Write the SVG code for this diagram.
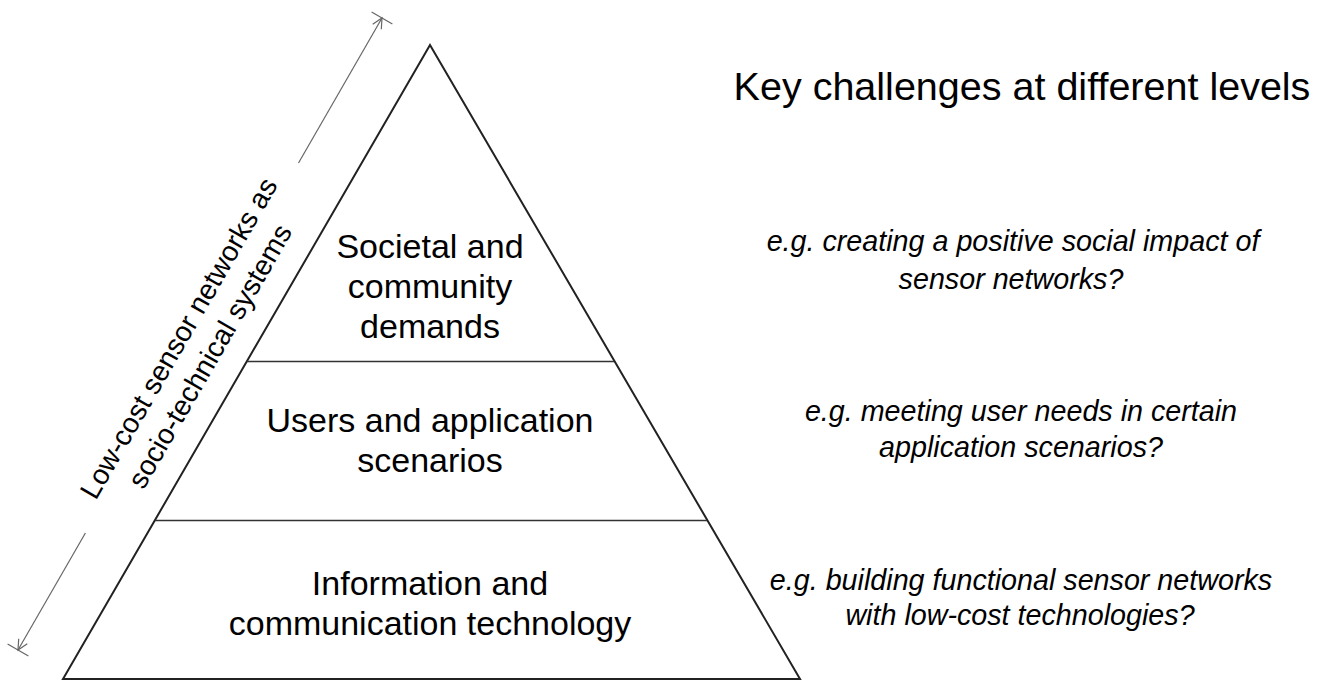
<svg xmlns="http://www.w3.org/2000/svg" width="1325" height="681" viewBox="0 0 1325 681">
  <style>
    .lvl { font-family: "Liberation Sans", Arial, sans-serif; font-size: 34px; fill: #000; text-anchor: middle; }
    .ex { font-family: "Liberation Sans", Arial, sans-serif; font-size: 28.7px; font-style: italic; fill: #000; text-anchor: middle; }
    .title { font-family: "Liberation Sans", Arial, sans-serif; font-size: 39.5px; fill: #000; text-anchor: middle; }
    .side { font-family: "Liberation Sans", Arial, sans-serif; font-size: 28.3px; fill: #000; text-anchor: middle; }
    .outline { fill: #fff; stroke: #222; stroke-width: 2; stroke-linejoin: miter; }
    .divider { stroke: #333; stroke-width: 1.6; fill: none; }
    .dim { stroke: #666; stroke-width: 1.2; fill: none; }
  </style>
  <rect width="1325" height="681" fill="#fff"/>

  <!-- pyramid outline -->
  <g id="pyramid">
    <polygon class="outline" points="430,45 800,679 63,679"/>
  </g>

  <!-- level dividers -->
  <g id="connectors">
    <line class="divider" x1="247" y1="361.5" x2="614" y2="361.5"/>
    <line class="divider" x1="155" y1="520.5" x2="707" y2="520.5"/>
  </g>

  <!-- levels -->
  <g id="level-societal">
    <text class="lvl" x="430" y="258">Societal and</text>
    <text class="lvl" x="430" y="298">community</text>
    <text class="lvl" x="430" y="338">demands</text>
  </g>
  <g id="level-users">
    <text class="lvl" x="430" y="432">Users and application</text>
    <text class="lvl" x="430" y="472">scenarios</text>
  </g>
  <g id="level-ict">
    <text class="lvl" x="430" y="595">Information and</text>
    <text class="lvl" x="430" y="635">communication technology</text>
  </g>

  <!-- dimension arrow along the left flank -->
  <g id="span-arrow">
    <line class="dim" x1="298.5" y1="163" x2="382" y2="18"/>
    <polyline class="dim" points="381.3,29.2 382,18 372.7,24.2"/>
    <line class="dim" x1="371.6" y1="12" x2="392.4" y2="24"/>
    <line class="dim" x1="85.4" y1="533" x2="18" y2="650"/>
    <polyline class="dim" points="27.3,643.8 18,650 18.7,638.8"/>
    <line class="dim" x1="7.6" y1="644" x2="28.4" y2="656"/>
  </g>
  <g id="span-label" transform="translate(194,347) rotate(-60)">
    <text class="side" x="0" y="-8">Low-cost sensor networks as</text>
    <text class="side" x="0" y="28">socio-technical systems</text>
  </g>

  <!-- right column -->
  <g id="title">
    <text class="title" x="1022" y="100">Key challenges at different levels</text>
  </g>
  <g id="challenge-societal">
    <text class="ex" x="1013" y="251">e.g. creating a positive social impact of</text>
    <text class="ex" x="1011" y="289">sensor networks?</text>
  </g>
  <g id="challenge-users">
    <text class="ex" x="1021" y="421">e.g. meeting user needs in certain</text>
    <text class="ex" x="1021" y="457">application scenarios?</text>
  </g>
  <g id="challenge-ict">
    <text class="ex" x="1021" y="590">e.g. building functional sensor networks</text>
    <text class="ex" x="1020" y="625">with low-cost technologies?</text>
  </g>
</svg>
